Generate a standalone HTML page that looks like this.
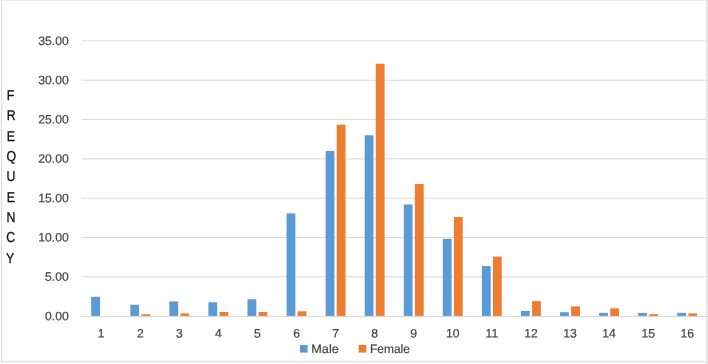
<!DOCTYPE html>
<html lang="en">
<head>
<meta charset="utf-8">
<title>Frequency chart</title>
<style>
html,body{margin:0;padding:0;background:#fff;}
body{width:708px;height:364px;overflow:hidden;}
svg{display:block;}
text{font-family:"Liberation Sans",sans-serif;text-rendering:geometricPrecision;}
.ax{font-size:12.2px;fill:#454545;stroke:#454545;stroke-width:0.2px;}
.yt{font-size:14.3px;fill:#111;stroke:#111;stroke-width:0.3px;}
</style>
</head>
<body>
<svg width="708" height="364" viewBox="0 0 708 364">
<rect x="0" y="0" width="708" height="364" fill="#ffffff"/>
<!-- chart border -->
<rect x="1" y="0" width="707" height="1" fill="#ebebeb"/>
<rect x="0.9" y="0" width="1.2" height="362.6" fill="#dddddd"/>
<rect x="1" y="360.8" width="707" height="1.8" fill="#e5e5e5"/>
<rect x="706" y="0" width="2" height="364" fill="#e7e7e7"/>
<!-- gridlines -->
<g stroke="#d9d9d9" stroke-width="1" fill="none">
<line x1="81.3" y1="276.83" x2="706" y2="276.83"/>
<line x1="81.3" y1="237.51" x2="706" y2="237.51"/>
<line x1="81.3" y1="198.19" x2="706" y2="198.19"/>
<line x1="81.3" y1="158.87" x2="706" y2="158.87"/>
<line x1="81.3" y1="119.55" x2="706" y2="119.55"/>
<line x1="81.3" y1="80.23" x2="706" y2="80.23"/>
<line x1="81.3" y1="40.91" x2="706" y2="40.91"/>
<line x1="81.4" y1="316.5" x2="706" y2="316.5" stroke="#d6d6d6"/>
</g>
<!-- y axis labels -->
<g class="ax" text-anchor="end">
<text transform="translate(68.8,320.15) rotate(0.03) scale(1.0,1)">0.00</text>
<text transform="translate(68.8,280.83) rotate(0.03) scale(1.0,1)">5.00</text>
<text transform="translate(68.8,241.51) rotate(0.03) scale(1.0,1)">10.00</text>
<text transform="translate(68.8,202.19) rotate(0.03) scale(1.0,1)">15.00</text>
<text transform="translate(68.8,162.87) rotate(0.03) scale(1.0,1)">20.00</text>
<text transform="translate(68.8,123.55) rotate(0.03) scale(1.0,1)">25.00</text>
<text transform="translate(68.8,84.23) rotate(0.03) scale(1.0,1)">30.00</text>
<text transform="translate(68.8,44.91) rotate(0.03) scale(1.0,1)">35.00</text>
</g>
<!-- bars -->
<g fill="#5b9bd5">
<rect x="91.20" y="296.80" width="8.8" height="19.10"/>
<rect x="130.27" y="304.75" width="8.8" height="11.15"/>
<rect x="169.34" y="301.44" width="8.8" height="14.46"/>
<rect x="208.41" y="302.23" width="8.8" height="13.67"/>
<rect x="247.48" y="299.24" width="8.8" height="16.66"/>
<rect x="286.55" y="213.37" width="8.8" height="102.53"/>
<rect x="325.62" y="151.01" width="8.8" height="164.89"/>
<rect x="364.69" y="135.28" width="8.8" height="180.62"/>
<rect x="403.76" y="204.48" width="8.8" height="111.42"/>
<rect x="442.83" y="238.85" width="8.8" height="77.05"/>
<rect x="481.90" y="266.06" width="8.8" height="49.84"/>
<rect x="520.97" y="310.88" width="8.8" height="5.02"/>
<rect x="560.04" y="312.22" width="8.8" height="3.68"/>
<rect x="599.11" y="312.85" width="8.8" height="3.05"/>
<rect x="638.18" y="312.85" width="8.8" height="3.05"/>
<rect x="677.25" y="312.85" width="8.8" height="3.05"/>
</g>
<g fill="#ed7d31">
<rect x="141.37" y="314.18" width="8.8" height="1.72"/>
<rect x="180.44" y="313.40" width="8.8" height="2.50"/>
<rect x="219.51" y="312.06" width="8.8" height="3.84"/>
<rect x="258.58" y="312.06" width="8.8" height="3.84"/>
<rect x="297.65" y="311.27" width="8.8" height="4.63"/>
<rect x="336.72" y="124.66" width="8.8" height="191.24"/>
<rect x="375.79" y="63.72" width="8.8" height="252.18"/>
<rect x="414.86" y="184.03" width="8.8" height="131.87"/>
<rect x="453.93" y="217.06" width="8.8" height="98.84"/>
<rect x="493.00" y="256.62" width="8.8" height="59.28"/>
<rect x="532.07" y="301.21" width="8.8" height="14.69"/>
<rect x="571.14" y="306.32" width="8.8" height="9.58"/>
<rect x="610.21" y="308.29" width="8.8" height="7.61"/>
<rect x="649.28" y="314.18" width="8.8" height="1.72"/>
<rect x="688.35" y="313.40" width="8.8" height="2.50"/>
</g>
<!-- x axis labels -->
<g class="ax" text-anchor="middle">
<text transform="translate(101.20,337.55) rotate(0.03) scale(1.0,1)">1</text>
<text transform="translate(140.27,337.55) rotate(0.03) scale(1.0,1)">2</text>
<text transform="translate(179.34,337.55) rotate(0.03) scale(1.0,1)">3</text>
<text transform="translate(218.41,337.55) rotate(0.03) scale(1.0,1)">4</text>
<text transform="translate(257.48,337.55) rotate(0.03) scale(1.0,1)">5</text>
<text transform="translate(296.55,337.55) rotate(0.03) scale(1.0,1)">6</text>
<text transform="translate(335.62,337.55) rotate(0.03) scale(1.0,1)">7</text>
<text transform="translate(374.69,337.55) rotate(0.03) scale(1.0,1)">8</text>
<text transform="translate(413.76,337.55) rotate(0.03) scale(1.0,1)">9</text>
<text transform="translate(452.83,337.55) rotate(0.03) scale(1.0,1)">10</text>
<text transform="translate(491.90,337.55) rotate(0.03) scale(1.0,1)">11</text>
<text transform="translate(530.97,337.55) rotate(0.03) scale(1.0,1)">12</text>
<text transform="translate(570.04,337.55) rotate(0.03) scale(1.0,1)">13</text>
<text transform="translate(609.11,337.55) rotate(0.03) scale(1.0,1)">14</text>
<text transform="translate(648.18,337.55) rotate(0.03) scale(1.0,1)">15</text>
<text transform="translate(687.25,337.55) rotate(0.03) scale(1.0,1)">16</text>
</g>
<!-- y axis title -->
<text class="yt" transform="rotate(0.03) scale(0.86,1)" x="8.02 8.02 8.02 7.56 7.79 8.02 7.79 7.56 7.09" y="99.80 120.17 140.54 160.91 181.28 201.65 222.02 242.39 262.76">FREQUENCY</text>
<!-- legend -->
<rect x="300" y="345" width="7.6" height="7.6" fill="#5b9bd5"/>
<text class="ax" transform="translate(311.3,353) rotate(0.03) scale(1.04,1)">Male</text>
<rect x="358.7" y="345" width="7.6" height="7.6" fill="#ed7d31"/>
<text class="ax" transform="translate(370,353) rotate(0.03) scale(0.98,1)">Female</text>
</svg>
</body>
</html>
